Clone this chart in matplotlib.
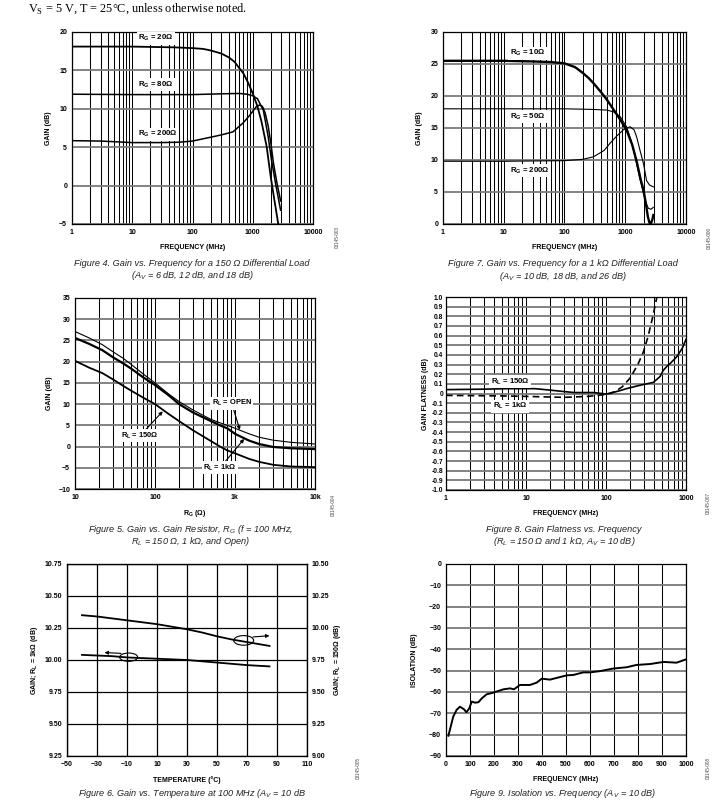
import numpy as np
import matplotlib
matplotlib.use("Agg")
import matplotlib.pyplot as plt
from matplotlib.ticker import LogLocator, NullFormatter
from matplotlib.patches import Ellipse

plt.rcParams['font.family'] = ['Liberation Sans', 'DejaVu Sans']
plt.rcParams['mathtext.fontset'] = 'custom'
plt.rcParams['mathtext.rm'] = 'Liberation Sans:bold'
plt.rcParams['mathtext.it'] = 'Liberation Sans:italic'
plt.rcParams['mathtext.sf'] = 'Liberation Serif'
plt.rcParams['mathtext.default'] = 'rm'

# ---- Figure 4: gain vs frequency, 150 ohm load
f4_rg20 = [1, 10, 50, 100, 150, 200, 300, 400, 500, 700, 850, 1000, 1200, 1400, 1700, 2000, 2300, 2650]
g4_rg20 = [18.1, 18.1, 18.0, 17.9, 17.8, 17.6, 17.2, 16.7, 16.1, 14.6, 13.3, 12.0, 10.3, 8.3, 5.1, 1.0, -2.0, -5.0]
f4_rg80 = [1, 10, 100, 300, 600, 800, 1000, 1200, 1500, 1800, 2050, 2400, 2900]
g4_rg80 = [11.9, 11.85, 11.85, 11.95, 12.0, 11.9, 11.7, 11.3, 9.8, 6.4, 3.3, 0.2, -3.2]
f4_rg200 = [1, 3, 10, 30, 60, 100, 200, 300, 470, 700, 900, 1150, 1310, 1450, 1600, 1800, 2000, 2200, 2500, 2900]
g4_rg200 = [5.85, 5.8, 5.6, 5.6, 5.65, 5.8, 6.3, 6.6, 7.0, 8.2, 9.2, 10.3, 10.5, 10.3, 9.5, 7.8, 5.5, 3.0, 0.5, -2.0]

# ---- Figure 7: gain vs frequency, 1k load
f7_rg10 = [1, 10, 30, 60, 100, 150, 200, 250, 300, 400, 500, 640, 800, 1050, 1300, 1540, 1800, 2000, 2200, 2350, 2500, 2650, 2800, 2900]
g7_rg10 = [25.5, 25.5, 25.4, 25.3, 25.1, 24.5, 23.6, 22.8, 22.0, 20.6, 19.4, 17.9, 16.5, 14.7, 12.4, 9.8, 6.9, 5.3, 3.0, 1.2, 0.2, 0.1, 0.7, 1.4]
f7_rg50 = [1, 10, 100, 300, 500, 650, 820, 1050, 1250, 1450, 1700, 2000, 2200, 2400, 2650, 2900]
g7_rg50 = [18.0, 18.0, 18.0, 17.9, 17.8, 17.5, 16.8, 15.2, 13.0, 10.5, 7.5, 4.7, 3.3, 2.45, 2.3, 2.6]
f7_rg200 = [1, 10, 100, 200, 300, 450, 560, 700, 925, 1200, 1400, 1540, 1750, 2000, 2240, 2500, 2900]
g7_rg200 = [9.8, 9.8, 9.9, 10.1, 10.5, 11.5, 12.6, 13.6, 14.7, 15.2, 14.7, 13.6, 11.5, 9.4, 6.8, 6.1, 5.8]

# ---- Figure 5: gain vs gain resistor
rg5 = [10, 15, 22, 30, 40, 50, 70, 100, 150, 200, 300, 500, 650, 800, 1000, 1500, 2000, 3000, 5000, 10000]
g5_open = [27.1, 25.6, 24.0, 22.3, 20.8, 19.4, 17.2, 15.0, 12.3, 10.6, 8.6, 6.4, 5.6, 5.0, 4.3, 3.0, 2.2, 1.5, 1.0, 0.6]
g5_1k = [25.6, 24.2, 22.7, 21.0, 19.6, 18.4, 16.4, 14.5, 12.0, 10.0, 8.0, 6.0, 5.0, 4.3, 3.0, 1.4, 0.6, -0.1, -0.4, -0.6]
g5_150 = [20.2, 18.6, 17.3, 15.8, 14.3, 13.2, 11.6, 10.0, 7.6, 6.0, 3.8, 1.3, 0.0, -0.9, -1.6, -2.9, -3.6, -4.3, -4.7, -4.85]

# ---- Figure 8: gain flatness
f8_150 = [1, 3, 6, 10, 13, 20, 30, 40, 70, 100, 110, 150, 180, 250, 390, 473, 520, 575, 650, 765, 900, 1000]
g8_150 = [0.04, 0.045, 0.05, 0.05, 0.05, 0.035, 0.02, 0.01, 0.01, -0.005, 0.0, 0.03, 0.05, 0.08, 0.115, 0.175, 0.24, 0.28, 0.32, 0.38, 0.47, 0.56]
f8_1k = [1, 5, 10, 30, 60, 100, 130, 160, 200, 250, 293, 330, 355, 390, 430]
g8_1k = [-0.02, -0.025, -0.03, -0.04, -0.03, -0.01, 0.02, 0.07, 0.16, 0.3, 0.43, 0.57, 0.675, 0.82, 0.99]

# ---- Figure 6: gain vs temperature
temp6 = [-40, -30, -20, -10, 0, 10, 20, 30, 40, 50, 60, 70, 85]
g6_1k = [10.04, 10.035, 10.03, 10.02, 10.015, 10.01, 10.005, 10.0, 9.99, 9.98, 9.97, 9.96, 9.95]
g6_150 = [10.10, 10.09, 10.075, 10.06, 10.045, 10.03, 10.01, 9.99, 9.965, 9.935, 9.91, 9.89, 9.86]

# ---- Figure 9: isolation vs frequency
f9 = [10, 30, 44, 58, 75, 85, 97, 107, 121, 135, 149, 169, 197, 239, 267, 283, 308, 350, 378, 399,
      433, 461, 503, 531, 572, 600, 642, 697, 753, 794, 850, 906, 961, 1000]
iso9 = [-80.5, -71.6, -68.4, -66.9, -68.1, -69.5, -67.7, -64.5, -65.0, -64.8, -63.0, -61.1, -60.3, -58.75,
        -58.3, -58.75, -56.7, -56.7, -55.6, -53.75, -54.2, -53.4, -52.2, -52.0, -50.8, -50.8, -50.2,
        -49.0, -48.4, -47.3, -46.9, -45.9, -46.25, -44.7]

W, H = 713, 810
fig = plt.figure(figsize=(W / 100, H / 100), dpi=100)


def add_ax(x0, x1, y0, y1):
    return fig.add_axes([x0 / W, 1 - y1 / H, (x1 - x0) / W, (y1 - y0) / H])


def ftext(x, y, s, **kw):
    fig.text(x / W, 1 - y / H, s, **kw)


def style(ax, logx=False, hgrid='#7a7a7a'):
    if logx:
        ax.set_xscale('log')
        ax.xaxis.set_minor_locator(LogLocator(base=10, subs=np.arange(2, 10)))
        ax.xaxis.set_minor_formatter(NullFormatter())
    ax.grid(True, which='both', axis='x', color='black', lw=0.75)
    ax.grid(True, which='major', axis='y', color=hgrid, lw=1.3)
    ax.tick_params(which='both', length=0, labelsize=5, pad=3.5)
    for sp in ax.spines.values():
        sp.set_linewidth(0.9)


def bold_ticks(ax):
    for lab in ax.get_xticklabels() + ax.get_yticklabels():
        lab.set_fontweight('bold')


lab_kw = dict(fontsize=5, fontweight='bold')
box = dict(fc='white', ec='none', pad=1.0)
rg_kw = dict(fontsize=5.6, fontweight='bold', va='center', bbox=box)
cap_kw = dict(fontsize=6.6, style='italic', ha='center', va='center', color='#222222')
id_kw = dict(fontsize=3.3, rotation=90, ha='center', va='center', color='#444444')

ftext(28, 9, r'V$_{\mathsf{S}}$ = 5 V, T = 25°C, unless otherwise noted.',
      fontsize=8.8, family='Liberation Serif', va='center')

# Figure 4
ax = add_ax(72, 313, 32, 224)
style(ax, logx=True)
ax.plot(f4_rg20, g4_rg20, color='black', lw=1.3)
ax.plot(f4_rg80, g4_rg80, color='black', lw=1.1)
ax.plot(f4_rg200, g4_rg200, color='black', lw=1.1)
ax.set_xlim(1, 10000)
ax.set_ylim(-5, 20)
ax.set_xticks([1, 10, 100, 1000, 10000], ['1', '10', '100', '1000', '10000'])
ax.set_yticks([-5, 0, 5, 10, 15, 20])
bold_ticks(ax)
ax.set_xlabel('FREQUENCY (MHz)', labelpad=6, **lab_kw)
ax.set_ylabel('GAIN (dB)', labelpad=5, **lab_kw)
for y, s in [(19.2, '20Ω'), (13.1, '80Ω'), (6.7, '200Ω')]:
    ax.text(12.5, y, 'R$_G$ = ' + s, **rg_kw)
ftext(192, 263, 'Figure 4. Gain vs. Frequency for a 150 Ω Differential Load', **cap_kw)
ftext(192, 276, r'(A$_{\mathit{V}}$ = 6 dB, 12 dB, and 18 dB)', **cap_kw)
ftext(337, 237, '03145-003', **id_kw)

# Figure 7
ax = add_ax(443, 686, 32, 224)
style(ax, logx=True)
ax.plot(f7_rg10, g7_rg10, color='black', lw=1.7)
ax.plot(f7_rg50, g7_rg50, color='black', lw=0.8)
ax.plot(f7_rg200, g7_rg200, color='black', lw=0.8)
ax.set_xlim(1, 10000)
ax.set_ylim(0, 30)
ax.set_xticks([1, 10, 100, 1000, 10000], ['1', '10', '100', '1000', '10000'])
ax.set_yticks([0, 5, 10, 15, 20, 25, 30])
bold_ticks(ax)
ax.set_xlabel('FREQUENCY (MHz)', labelpad=6, **lab_kw)
ax.set_ylabel('GAIN (dB)', labelpad=5, **lab_kw)
for y, s in [(26.7, '10Ω'), (16.8, '50Ω'), (8.3, '200Ω')]:
    ax.text(12.6, y, 'R$_G$ = ' + s, **rg_kw)
ftext(563, 263, 'Figure 7. Gain vs. Frequency for a 1 kΩ Differential Load', **cap_kw)
ftext(563, 277, r'(A$_{\mathit{V}}$ = 10 dB, 18 dB, and 26 dB)', **cap_kw)
ftext(709, 238, '03145-006', **id_kw)

# Figure 5
ax = add_ax(75, 315, 298, 489)
style(ax, logx=True)
ax.plot(rg5, g5_open, color='black', lw=0.8)
ax.plot(rg5, g5_1k, color='black', lw=1.6)
ax.plot(rg5, g5_150, color='black', lw=1.3)
ax.set_xlim(10, 10000)
ax.set_ylim(-10, 35)
ax.set_xticks([10, 100, 1000, 10000], ['10', '100', '1k', '10k'])
ax.set_yticks(np.arange(-10, 36, 5))
bold_ticks(ax)
ax.set_xlabel('R$_G$ (Ω)', labelpad=5, **lab_kw)
ax.set_ylabel('GAIN (dB)', labelpad=4, **lab_kw)
arr = dict(arrowstyle='-|>', color='black', lw=0.8, mutation_scale=5, shrinkA=0, shrinkB=0)
ann_kw = dict(fontsize=5.4, fontweight='bold', ha='center', va='center', bbox=box, arrowprops=arr)
ax.annotate('R$_L$ = OPEN', xy=(1150, 3.9), xytext=(910, 10.2), **ann_kw)
ax.annotate('R$_L$ = 1kΩ', xy=(1300, 1.8), xytext=(650, -5.0), **ann_kw)
ax.annotate('R$_L$ = 150Ω', xy=(125, 8.3), xytext=(65, 2.55), **ann_kw)
ftext(191, 529, r'Figure 5. Gain vs. Gain Resistor, R$_{\mathit{G}}$ (f = 100 MHz,', **cap_kw)
ftext(191, 542, r'R$_{\mathit{L}}$ = 150 Ω, 1 kΩ, and Open)', **cap_kw)
ftext(333, 505, '03145-004', **id_kw)

# Figure 8
ax = add_ax(446, 686, 297, 490)
style(ax, logx=True)
ax.plot(f8_150, g8_150, color='black', lw=1.2)
ax.plot(f8_1k, g8_1k, color='black', lw=1.2, ls=(0, (4, 2.5)))
ax.set_xlim(1, 1000)
ax.set_ylim(-1, 1)
ax.set_xticks([1, 10, 100, 1000], ['1', '10', '100', '1000'])
yt = np.round(np.arange(-1.0, 1.01, 0.1), 1)
ax.set_yticks(yt, ['0' if abs(v) < 1e-9 else f'{v:.1f}' for v in yt])
ax.tick_params(axis='y', labelsize=4.8, pad=2)
bold_ticks(ax)
ax.set_xlabel('FREQUENCY (MHz)', labelpad=6, **lab_kw)
ax.set_ylabel('GAIN FLATNESS (dB)', labelpad=2, **lab_kw)
ax.text(6.3, 0.12, 'R$_L$ = 150Ω', ha='center', **rg_kw)
ax.text(6.3, -0.13, 'R$_L$ = 1kΩ', ha='center', **rg_kw)
ftext(564, 529, 'Figure 8. Gain Flatness vs. Frequency', **cap_kw)
ftext(564, 542, r'(R$_{\mathit{L}}$ = 150 Ω and 1 kΩ, A$_{\mathit{V}}$ = 10 dB)', **cap_kw)
ftext(708, 503, '03145-007', **id_kw)

# Figure 6
ax = add_ax(67, 307, 564, 756)
style(ax, hgrid='black')
ax.grid(True, which='major', axis='both', color='black', lw=0.9)
ax.plot(temp6, g6_1k, color='black', lw=1.3)
ax.set_xlim(-50, 110)
ax.set_ylim(9.25, 10.75)
ax.set_xticks(np.arange(-50, 111, 20))
ax.set_yticks(np.arange(9.25, 10.76, 0.25), [f'{v:.2f}' for v in np.arange(9.25, 10.76, 0.25)])
bold_ticks(ax)
ax.set_xlabel('TEMPERATURE (°C)', labelpad=6, **lab_kw)
ax.set_ylabel('GAIN; R$_L$ = 1kΩ (dB)', labelpad=3, **lab_kw)
ax.add_patch(Ellipse((-8.9, 10.022), 12, 0.065, fill=False, color='black', lw=0.8))
ax.add_patch(Ellipse((67.8, 10.153), 13.3, 0.075, fill=False, color='black', lw=0.8))
ax.annotate('', xy=(-25, 10.058), xytext=(-14, 10.052), arrowprops=arr)
ax.annotate('', xy=(85, 10.19), xytext=(74, 10.18), arrowprops=arr)
ax2 = ax.twinx()
ax2.plot(temp6, g6_150, color='black', lw=1.3)
ax2.set_ylim(9.0, 10.5)
ax2.set_yticks(np.arange(9.0, 10.51, 0.25), [f'{v:.2f}' for v in np.arange(9.0, 10.51, 0.25)])
ax2.tick_params(length=0, labelsize=5, pad=3.5)
bold_ticks(ax2)
ax2.set_ylabel('GAIN; R$_L$ = 150Ω (dB)', labelpad=2, **lab_kw)
ftext(192, 794, r'Figure 6. Gain vs. Temperature at 100 MHz (A$_{\mathit{V}}$ = 10 dB', **cap_kw)
ftext(358, 768, '03145-005', **id_kw)

# Figure 9
ax = add_ax(446, 686, 564, 756)
style(ax)
ax.plot(f9, iso9, color='black', lw=1.4)
ax.set_xlim(0, 1000)
ax.set_ylim(-90, 0)
ax.set_xticks(np.arange(0, 1001, 100))
ax.set_yticks(np.arange(-90, 1, 10))
bold_ticks(ax)
ax.set_xlabel('FREQUENCY (MHz)', labelpad=6, **lab_kw)
ax.set_ylabel('ISOLATION (dB)', labelpad=8, **lab_kw)
ftext(563, 794, r'Figure 9. Isolation vs. Frequency (A$_{\mathit{V}}$ = 10 dB)', **cap_kw)
ftext(708, 768, '03145-008', **id_kw)

fig.savefig('out.png', dpi=100)
